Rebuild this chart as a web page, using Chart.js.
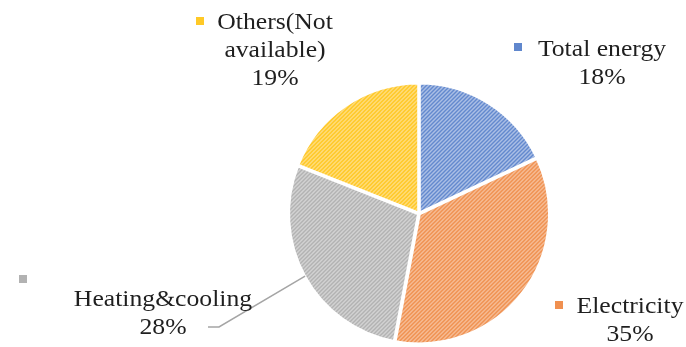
<!DOCTYPE html>
<html>
<head>
<meta charset="utf-8">
<script src="https://cdn.jsdelivr.net/npm/chart.js"></script>
<style>
  html, body { margin:0; padding:0; background:#fff; }
  #wrap { width:686px; height:347px; position:relative; }
</style>
</head>
<body>
<div id="wrap"><canvas id="pie"></canvas></div>
<script>
// energy share by use (%)
const categories = ['Total energy', 'Electricity', 'Heating&cooling', 'Others(Not available)'];
const shares = [18, 35, 28, 19];
const baseColors = ['#4472C4', '#ED7D31', '#A5A5A5', '#FFC000'];
const lightColors = ['#C5D3EE', '#F9CDB0', '#DEDEDE', '#FFE49A'];

// diagonal hatch fill, like the office "wide upward diagonal" pattern
function hatch(light, dark) {
  const c = document.createElement('canvas');
  c.width = 4; c.height = 4;
  const g = c.getContext('2d');
  g.fillStyle = light;
  g.fillRect(0, 0, 4, 4);
  g.strokeStyle = dark;
  g.lineWidth = 1.3;
  g.beginPath();
  g.moveTo(-1, 5); g.lineTo(5, -1);
  g.moveTo(-1, 1); g.lineTo(1, -1);
  g.moveTo(3, 5); g.lineTo(5, 3);
  g.stroke();
  return g.createPattern(c, 'repeat');
}

// label text lines and anchor spots for each slice
const labelLines = [
  ['Total energy', '18%'],
  ['Electricity', '35%'],
  ['Heating&cooling', '28%'],
  ['Others(Not', 'available)', '19%']
];
const labelSpots = [
  { x: 602, y: 50, key: [518, 47] },
  { x: 630, y: 307, key: [559, 305] },
  { x: 163, y: 300, key: [23, 279] },
  { x: 275, y: 23, key: [200, 21] }
];
const textStretch = 1.07;

const labelPlugin = {
  id: 'sliceLabels',
  afterDraw(chart) {
    const ctx = chart.ctx;
    const arcs = chart.getDatasetMeta(0).data;
    ctx.save();
    // leader line for the heating slice
    const a = arcs[2];
    const mid = (a.startAngle + a.endAngle) / 2;
    ctx.strokeStyle = '#A5A5A5';
    ctx.lineWidth = 1.5;
    ctx.beginPath();
    ctx.moveTo(208, 327);
    ctx.lineTo(219, 327);
    ctx.lineTo(a.x + Math.cos(mid) * a.outerRadius, a.y + Math.sin(mid) * a.outerRadius);
    ctx.stroke();

    ctx.font = '24px "Liberation Serif", "Times New Roman", serif';
    ctx.textAlign = 'center';
    ctx.textBaseline = 'middle';
    labelLines.forEach((lines, i) => {
      const s = labelSpots[i];
      ctx.fillStyle = '#1f1f1f';
      lines.forEach((t, j) => {
        ctx.save();
        ctx.translate(s.x, s.y + j * 28);
        ctx.scale(textStretch, 1);
        ctx.fillText(t, 0, 0);
        ctx.restore();
      });
      ctx.fillStyle = baseColors[i];
      ctx.globalAlpha = 0.85;
      ctx.fillRect(s.key[0] - 4, s.key[1] - 4, 8, 8);
      ctx.globalAlpha = 1;
    });
    ctx.restore();
  }
};

new Chart(document.getElementById('pie'), {
  type: 'pie',
  data: {
    labels: categories,
    datasets: [{
      data: shares,
      backgroundColor: baseColors.map((c, i) => hatch(lightColors[i], c)),
      borderColor: '#ffffff',
      borderWidth: 3,
      offset: 2
    }]
  },
  options: {
    responsive: true,
    maintainAspectRatio: false,
    animation: false,
    layout: { padding: { top: 81, bottom: 1, left: 200, right: 48 } },
    plugins: {
      legend: { display: false },
      tooltip: { enabled: false }
    }
  },
  plugins: [labelPlugin]
});
</script>
</body>
</html>
